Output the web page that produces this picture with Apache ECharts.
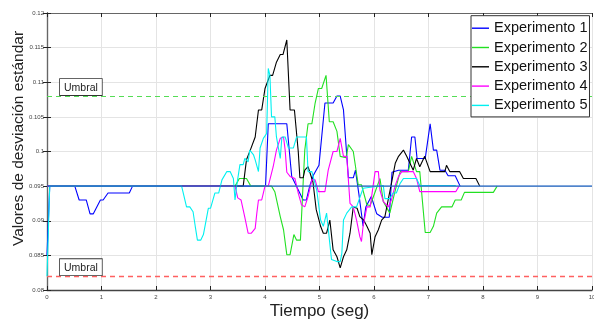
<!DOCTYPE html>
<html>
<head>
<meta charset="utf-8">
<script src="https://cdn.jsdelivr.net/npm/echarts@6/dist/echarts.min.js"></script>
<style>html,body{margin:0;padding:0;background:#fff}#c{width:594px;height:323px}</style>
</head>
<body>
<div id="c"></div>
<script>
// ---- data (time in s, value) ----
const names = ['Experimento 1','Experimento 2','Experimento 3','Experimento 4','Experimento 5'];
const xTicks = [0,1,2,3,4,5,6,7,8,9,10];
const yTicks = [0.08,0.085,0.09,0.095,0.1,0.105,0.11,0.115,0.12];
const umbralSup = 0.108;
const umbralInf = 0.082;
const baseT = [0, 10];
const baseV = [0.095, 0.095];

const t1 = [0,0.05,0.51,0.59,0.72,0.79,0.85,0.98,1.03,1.12,1.51,1.57,4.01,4.06,4.40,4.49,4.70,4.76,4.82,4.89,4.99,5.10,5.25,5.32,5.38,5.44,5.53,5.62,5.66,5.72,5.80,5.85,5.95,6.05,6.15,6.28,6.33,6.45,6.63,6.69,6.75,6.79,6.94,7.03,7.09,7.15,7.21,7.30,7.36,7.49,7.58];
const v1 = [0.085,0.095,0.095,0.093,0.093,0.091,0.091,0.093,0.093,0.094,0.094,0.095,0.095,0.104,0.104,0.0964,0.093,0.093,0.095,0.0966,0.098,0.107,0.107,0.108,0.108,0.106,0.0962,0.0962,0.0973,0.094,0.0892,0.092,0.0935,0.091,0.0905,0.0905,0.097,0.0973,0.0973,0.1021,0.1021,0.099,0.099,0.104,0.1002,0.1002,0.0973,0.0973,0.0965,0.0965,0.095];

const t2 = [0,3.45,3.53,3.66,3.74,4.12,4.18,4.28,4.34,4.40,4.46,4.53,4.58,4.65,4.70,4.73,4.79,4.86,4.92,4.98,5.04,5.12,5.18,5.25,5.32,5.38,5.49,5.53,5.62,5.71,5.77,5.87,5.93,6.11,6.17,6.29,6.39,6.48,6.63,6.69,6.78,6.84,6.94,7.03,7.09,7.15,7.24,7.43,7.49,7.60,7.66,8.19,8.26];
const v2 = [0.095,0.095,0.0961,0.0961,0.095,0.095,0.0942,0.0906,0.0887,0.0851,0.0851,0.088,0.0872,0.0872,0.0955,0.1002,0.104,0.104,0.107,0.1091,0.1091,0.111,0.1043,0.1043,0.1029,0.0993,0.0991,0.101,0.1,0.0952,0.0952,0.0923,0.0922,0.0961,0.0928,0.0911,0.0944,0.0971,0.0971,0.0993,0.0971,0.0971,0.0883,0.0883,0.0892,0.0911,0.092,0.092,0.093,0.093,0.0941,0.0941,0.095];

const t3 = [0,3.60,3.66,3.73,3.82,3.88,3.94,4.00,4.09,4.14,4.21,4.28,4.33,4.40,4.46,4.54,4.61,4.64,4.70,4.73,4.79,4.88,4.94,5.02,5.07,5.13,5.19,5.25,5.32,5.38,5.44,5.50,5.56,5.62,5.69,5.74,5.81,5.87,5.93,5.96,6.02,6.08,6.14,6.20,6.26,6.32,6.39,6.45,6.54,6.60,6.72,6.78,6.84,6.93,7.03,7.30,7.33,7.39,7.57,7.64,7.87,7.94];
const v3 = [0.095,0.095,0.0988,0.1002,0.1021,0.106,0.106,0.1091,0.111,0.111,0.1129,0.114,0.114,0.1161,0.106,0.106,0.1,0.0962,0.0962,0.0973,0.0978,0.0956,0.0916,0.0892,0.0882,0.0882,0.0901,0.0858,0.0848,0.0832,0.0848,0.0858,0.0882,0.092,0.0918,0.0906,0.0901,0.0892,0.0882,0.0851,0.0877,0.0887,0.0901,0.0906,0.093,0.0954,0.0983,0.0993,0.1002,0.0993,0.0973,0.099,0.0978,0.0993,0.0971,0.0971,0.098,0.0971,0.0971,0.0961,0.0961,0.095];

const t4 = [0,3.45,3.50,3.56,3.63,3.69,3.75,3.82,3.85,3.88,3.94,4.00,4.06,4.15,4.21,4.28,4.34,4.37,4.40,4.46,4.55,4.61,4.67,4.73,4.79,4.86,4.92,4.98,5.10,5.16,5.25,5.32,5.38,5.44,5.50,5.56,5.62,5.68,5.74,5.77,5.80,5.87,5.93,6.02,6.08,6.11,6.17,6.26,6.32,6.39,6.45,6.51,6.72,6.78,6.84,7.50,7.56];
const v4 = [0.095,0.095,0.0933,0.093,0.0905,0.0882,0.0882,0.0889,0.0911,0.093,0.093,0.095,0.095,0.0978,0.1002,0.1019,0.1021,0.1002,0.097,0.0964,0.0961,0.094,0.0923,0.092,0.0935,0.0959,0.0959,0.0942,0.0942,0.0973,0.1,0.1,0.1019,0.0993,0.0993,0.0925,0.092,0.0901,0.0877,0.087,0.0892,0.092,0.092,0.0971,0.0971,0.0944,0.0928,0.092,0.093,0.0951,0.0964,0.0971,0.0971,0.0961,0.0942,0.0942,0.095];

const t5 = [0,0.05,2.47,2.56,2.62,2.68,2.72,2.76,2.82,2.87,2.92,2.96,3.00,3.08,3.15,3.21,3.30,3.36,3.42,3.45,3.48,3.54,3.60,3.63,3.69,3.72,3.79,3.82,3.88,3.91,3.97,4.03,4.06,4.09,4.12,4.18,4.21,4.28,4.31,4.37,4.43,4.52,4.58,4.76,4.79,4.86,4.95,5.02,5.07,5.13,5.16,5.22,5.32,5.38,5.41,5.44,5.50,5.59,5.68,5.80,6.17,6.20,6.29,6.35,6.41,6.48,6.54,6.78,6.84,7.50];
const v5 = [0.082,0.095,0.095,0.092,0.092,0.0913,0.0892,0.0872,0.0872,0.088,0.0901,0.0918,0.0918,0.094,0.094,0.0959,0.0971,0.0971,0.0961,0.093,0.095,0.0981,0.0981,0.099,0.0985,0.1002,0.0995,0.0988,0.0971,0.1005,0.1019,0.1026,0.112,0.111,0.105,0.105,0.1021,0.099,0.1021,0.1021,0.1005,0.1005,0.1021,0.1021,0.0971,0.0971,0.0944,0.0901,0.0892,0.0911,0.0911,0.0844,0.0841,0.0841,0.0853,0.0901,0.0911,0.092,0.092,0.0947,0.0951,0.0932,0.0932,0.094,0.094,0.0954,0.0961,0.0961,0.0951,0.0951];

const colors = ['#0000ff','#22e022','#000000','#ff00ff','#00f0f0'];
const Ts = [t1,t2,t3,t4,t5];
const Vs = [v1,v2,v3,v4,v5];

const FONT = '"Liberation Sans", Arial, Helvetica, sans-serif';
const pair = (t,v) => t.map((x,i)=>[x, v[i]]);

const series = names.map((n,k)=>({
  name: n, type:'line', data: pair(Ts[k],Vs[k]), symbol:'none', showSymbol:false,
  lineStyle:{color:colors[k], width:1.1}, itemStyle:{color:colors[k]}, z: 2+k, animation:false
}));

const umbralLabel = {
  show:true, formatter:'Umbral', position:'insideStartTop', distance:[13,1],
  fontSize:10.5, fontFamily:FONT, color:'#222', backgroundColor:'#fff',
  borderColor:'#333', borderWidth:0.8, padding:[3,4,1,4], lineHeight:12
};

series.push({
  name:'base', type:'line', data: pair(baseT, baseV), symbol:'none', z: 20,
  lineStyle:{color:'rgba(40,105,195,0.78)', width:1.8}, animation:false,
  markLine:{
    symbol:['none','none'], silent:true, animation:false, precision:4,
    data:[
      {yAxis: umbralSup, lineStyle:{color:'#55dd55', type:[5,4], width:1}, label: umbralLabel},
      {yAxis: umbralInf, lineStyle:{color:'#ff6060', type:[5,4], width:1.4}, label: umbralLabel}
    ]
  }
});

const chart = echarts.init(document.getElementById('c'), null, {renderer:'canvas'});
const axisCommon = {
  axisLine:{show:true, lineStyle:{color:'#444', width:1.3}},
  axisTick:{show:true, inside:true, length:4, lineStyle:{color:'#222', width:1}},
};
chart.setOption({
  animation:false,
  backgroundColor:'#fff',
  textStyle:{fontFamily:FONT},
  grid:{left:47, right:2, top:13, bottom:33, containLabel:false, outerBoundsMode:'none'},
  legend:{
    data: names, orient:'vertical', left:471, top:15.7, icon:'rect', z:100, zlevel:1,
    padding:[5,2,4,1], itemGap:4.3, itemWidth:17, itemHeight:1.4,
    backgroundColor:'#fff', borderColor:'#333', borderWidth:1,
    textStyle:{fontSize:14.5, fontFamily:FONT, color:'#111', lineHeight:14},
    selectedMode:false
  },
  xAxis:[{
    type:'value', min:xTicks[0], max:xTicks[xTicks.length-1], interval:1,
    name:'Tiempo (seg)', nameLocation:'middle', nameGap:13, nameMoveOverlap:false,
    nameTextStyle:{fontSize:17, color:'#222', fontFamily:FONT},
    axisLabel:{fontSize:6, color:'#444', margin:4, fontFamily:FONT},
    splitLine:{show:true, lineStyle:{color:'#e4e4e4', width:1}},
    ...axisCommon
  },{
    type:'value', position:'top', min:0, max:10, interval:1,
    axisLabel:{show:false}, splitLine:{show:false}, ...axisCommon,
    axisLine:{show:true, lineStyle:{color:'#666', width:1}}
  }],
  yAxis:[{
    type:'value', min:yTicks[0], max:yTicks[yTicks.length-1], interval:0.005,
    name:'Valores de desviación estándar', nameLocation:'middle', nameGap:20, nameMoveOverlap:false,
    nameTextStyle:{fontSize:15.5, color:'#222', fontFamily:FONT, padding:[0,0,0,26]},
    axisLabel:{fontSize:6, color:'#444', margin:3, fontFamily:FONT,
      formatter:v=>String(+v.toFixed(3))},
    splitLine:{show:true, lineStyle:{color:'#e4e4e4', width:1}},
    ...axisCommon
  },{
    type:'value', position:'right', min:0.08, max:0.12, interval:0.005,
    axisLabel:{show:false}, splitLine:{show:false}, ...axisCommon,
    axisLine:{show:true, lineStyle:{color:'#666', width:1}}
  }],
  series: series
});
</script>
</body>
</html>
